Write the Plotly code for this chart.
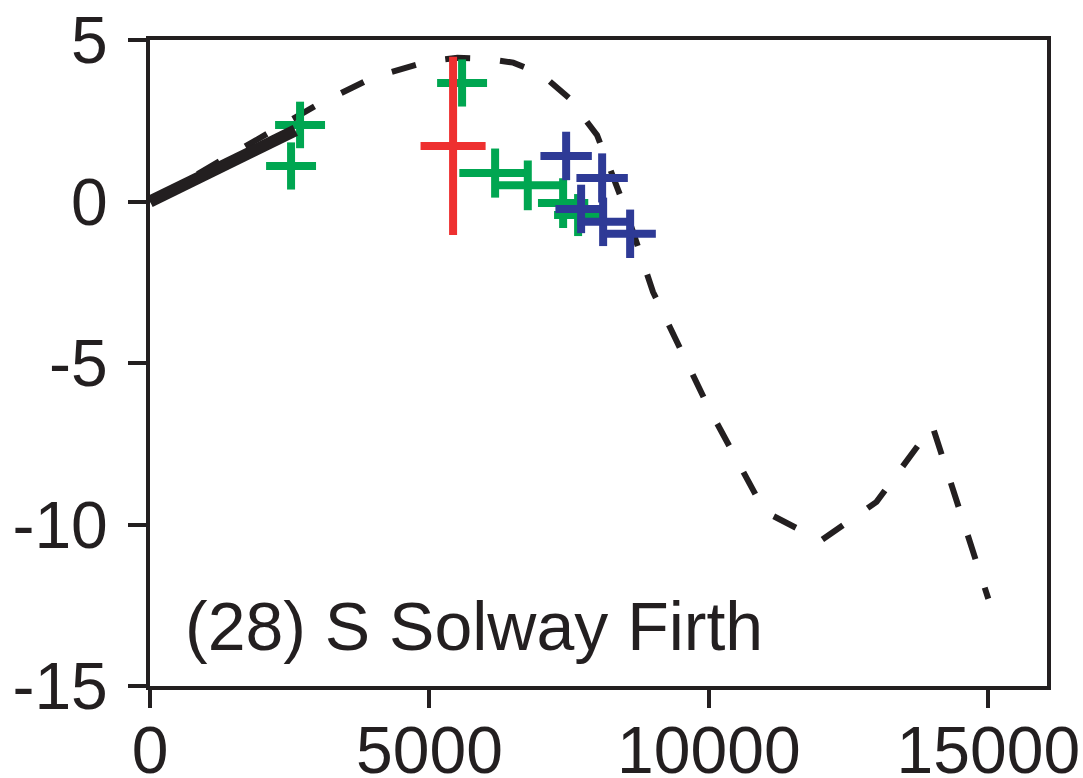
import plotly.graph_objects as go

# Modelled relative sea-level curve (dashed) and present-rate trend (solid)
model_age = [0, 1000, 2000, 3000, 4000, 5000, 5500, 6000, 6500, 7000, 7500,
             8000, 8500, 9000, 10000, 11000, 12000, 13000, 14000, 15000]
model_rsl = [0, 1.0, 2.0, 3.0, 3.85, 4.35, 4.45, 4.42, 4.3, 3.95, 3.2,
             2.05, -0.2, -2.8, -6.4, -9.6, -10.5, -9.3, -6.95, -12.3]

trend_age = [0, 2600]
trend_rsl = [0, 2.2]

# Sea-level index points: age, height and their uncertainties
green_age = [2685, 2524, 5584, 6175, 6760, 7392, 7660]
green_rsl = [2.37, 1.10, 3.67, 0.88, 0.50, -0.05, -0.42]
green_age_err = [447, 447, 447, 640, 626, 450, 430]
green_rsl_err = [0.72, 0.73, 0.73, 0.76, 0.77, 0.77, 0.65]

red_age = [5423]
red_rsl = [1.72]
red_age_err = [582]
red_rsl_err = [2.76]

blue_age = [7446, 8090, 7714, 8108, 8591]
blue_rsl = [1.41, 0.73, -0.23, -0.63, -1.00]
blue_age_err = [460, 460, 460, 460, 460]
blue_rsl_err = [0.75, 0.76, 0.75, 0.75, 0.75]

INK = "#231F20"
GREEN = "#00A651"
RED = "#EE3030"
BLUE = "#2E3A96"

fig = go.Figure()

fig.add_trace(go.Scatter(
    x=model_age, y=model_rsl, mode="lines",
    line=dict(color=INK, width=6, dash="25px,30px"),
    hoverinfo="skip"))


def crosses(age, rsl, age_err, rsl_err, color):
    return go.Scatter(
        x=age, y=rsl, mode="markers",
        marker=dict(size=1, color=color, opacity=0),
        error_x=dict(type="data", array=age_err, color=color, thickness=8, width=0),
        error_y=dict(type="data", array=rsl_err, color=color, thickness=8, width=0),
    )


fig.add_trace(crosses(green_age, green_rsl, green_age_err, green_rsl_err, GREEN))
fig.add_trace(crosses(red_age, red_rsl, red_age_err, red_rsl_err, RED))
fig.add_trace(crosses(blue_age, blue_rsl, blue_age_err, blue_rsl_err, BLUE))

fig.add_trace(go.Scatter(
    x=trend_age, y=trend_rsl, mode="lines",
    line=dict(color=INK, width=12), hoverinfo="skip"))

FAMILY = "Liberation Sans, Arial, Helvetica, sans-serif"
axis_font = dict(family=FAMILY, size=66, color=INK)
label_font = dict(family=FAMILY, size=68, color=INK)

fig.update_layout(
    width=1083, height=778,
    margin=dict(l=150, r=36, t=40, b=92),
    paper_bgcolor="white", plot_bgcolor="white",
    showlegend=False,
    font=axis_font,
    annotations=[dict(
        x=0.037, y=0.093, xref="paper", yref="paper",
        xanchor="left", yanchor="middle", showarrow=False,
        text="(28) S Solway Firth", font=label_font)],
)

fig.update_xaxes(
    range=[0, 16050], tickvals=[0, 5000, 10000, 15000],
    ticktext=["0", "5000", "10000", "15000"],
    showgrid=False, zeroline=False, automargin=False,
    showline=True, linecolor=INK, linewidth=4, mirror=True,
    ticks="outside", ticklen=18, tickwidth=4, tickcolor=INK,
    tickfont=axis_font, ticklabelstandoff=-14)

fig.update_yaxes(
    range=[-15, 5], tickvals=[5, 0, -5, -10, -15],
    ticktext=["5", "0", "-5", "-10", "-15"],
    showgrid=False, zeroline=False, automargin=False,
    showline=True, linecolor=INK, linewidth=4, mirror=True,
    ticks="outside", ticklen=18, tickwidth=4, tickcolor=INK,
    tickfont=axis_font, ticklabelstandoff=7)

fig.write_html("out.html")
